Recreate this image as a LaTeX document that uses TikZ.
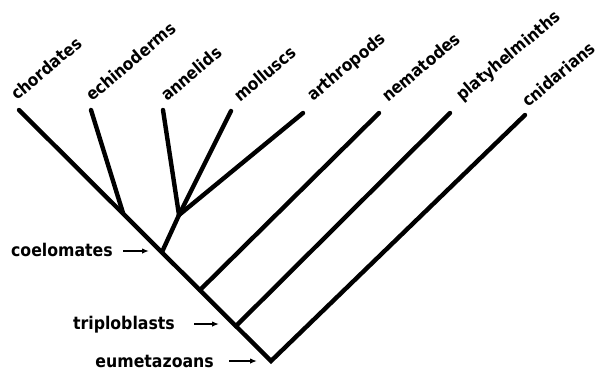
\documentclass[tikz,border=0pt]{standalone}
\usepackage{fontspec}
\setmainfont{DejaVu Sans Condensed}
\usetikzlibrary{arrows.meta}
\begin{document}
\begin{tikzpicture}[x=1pt,y=-1pt,
  branch/.style={line width=4.4pt, line cap=round, line join=miter},
  taxon/.style={rotate=40, anchor=base west, inner sep=0pt, font=\fontsize{17}{20}\selectfont\bfseries},
  clade/.style={anchor=base east, inner sep=0pt, font=\fontsize{17.5}{20}\selectfont\bfseries},
  pointer/.style={line width=1.6pt, -{Latex[length=7pt,width=5.5pt]}}]
\useasboundingbox (0,0) rectangle (601,373);
% tips
\coordinate (chor) at (19,110);
\coordinate (echi) at (91,110);
\coordinate (anne) at (163,110);
\coordinate (moll) at (231,111);
\coordinate (arth) at (303,113);
\coordinate (nema) at (379,113);
\coordinate (plat) at (450,113);
\coordinate (cnid) at (525,115);
% internal nodes
\coordinate (root) at (271,361);
\coordinate (trip) at (236,326);
\coordinate (nemn) at (200,290);
\coordinate (coel) at (162,252);
\coordinate (prot) at (179,215);
\coordinate (deut) at (123,213);
% branches
\draw[branch] (chor) -- (root) -- (cnid);
\draw[branch] (deut) -- (echi);
\draw[branch] (coel) -- (prot);
\draw[branch] (prot) -- (anne);
\draw[branch] (prot) -- (moll);
\draw[branch] (prot) -- (arth);
\draw[branch] (nemn) -- (nema);
\draw[branch] (trip) -- (plat);
% taxon labels
\node[taxon] (lchor) at (17,101) {chordates};
\node[taxon] (lechi) at (92,102) {echinoderms};
\node[taxon] (lanne) at (167,102) {annelids};
\node[taxon] (lmoll) at (240,103) {molluscs};
\node[taxon] (larth) at (313,102) {arthropods};
\node[taxon] (lnema) at (388,103) {nematodes};
\node[taxon] (lplat) at (462,102) {platyhelminths};
\node[taxon] (lcnid) at (528,108) {cnidarians};
% clade labels
\node[clade] (lcoel) at (113,256) {coelomates};
\node[clade] (ltrip) at (175,329) {triploblasts};
\node[clade] (leume) at (214,367) {eumetazoans};
\coordinate (acoel) at (123,251);
\coordinate (bcoel) at (149,251);
\coordinate (atrip) at (194,324);
\coordinate (btrip) at (219,324);
\coordinate (aeume) at (229,361);
\coordinate (beume) at (257,361);
\draw[pointer] (acoel) -- (bcoel);
\draw[pointer] (atrip) -- (btrip);
\draw[pointer] (aeume) -- (beume);
\end{tikzpicture}
\end{document}
